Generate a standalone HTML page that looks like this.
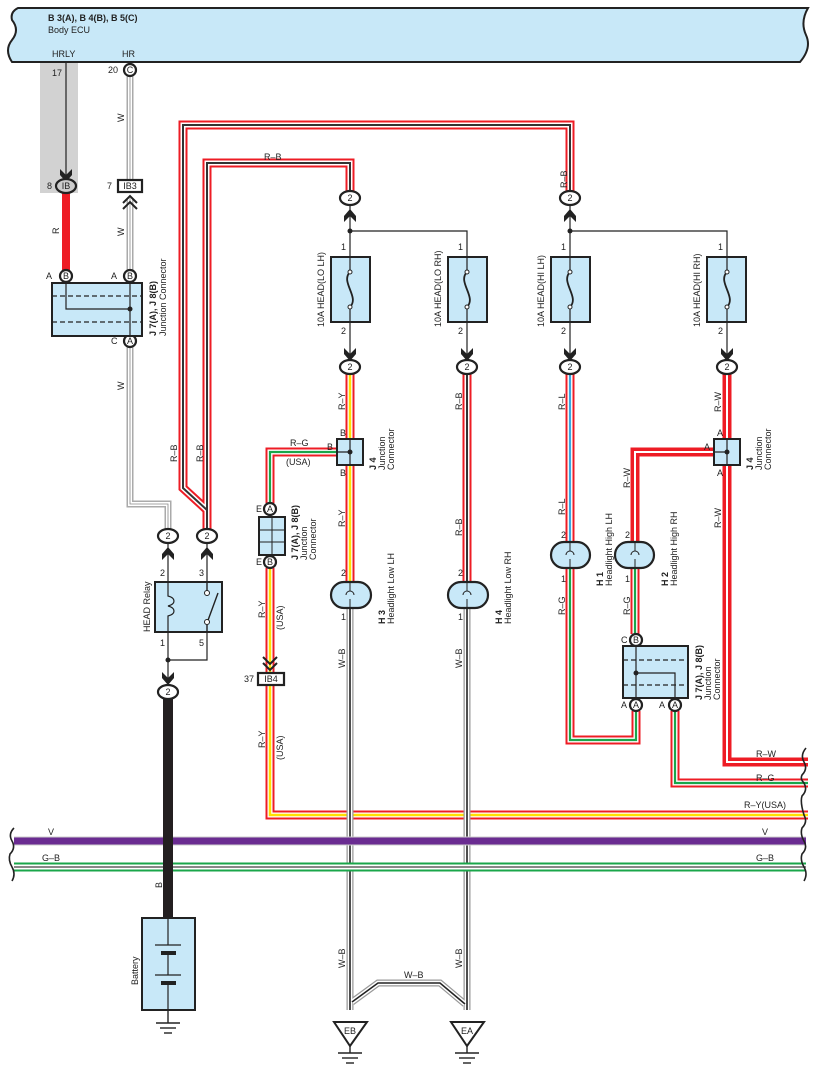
<!DOCTYPE html>
<html><head><meta charset="utf-8"><style>
html,body{margin:0;padding:0;background:#fff}
svg{display:block}
text{font-family:"Liberation Sans",sans-serif;font-size:9px;fill:#222}
.b{font-weight:bold}
</style></head><body>
<svg width="818" height="1076" viewBox="0 0 818 1076" xmlns="http://www.w3.org/2000/svg">
<defs>
<path id="rbA" d="M207,536 L207,510 L183,488 L183,125 L570,125 L570,192" fill="none"/>
<path id="rbB" d="M207,536 L207,163 L350,163 L350,192" fill="none"/>
<path id="wA" d="M130,76 L130,180"/>
<path id="wB" d="M130,198 L130,270"/>
<path id="wC" d="M130,347 L130,504 L168,504 L168,530" fill="none"/>
<path id="ry1" d="M350,373 L350,582"/>
<path id="ry2" d="M270,568 L270,815 L808,815" fill="none"/>
<path id="rg1" d="M350,452 L270,452 L270,503" fill="none"/>
<path id="rb3" d="M467,373 L467,582"/>
<path id="wb1" d="M350,608 L350,1010"/>
<path id="wb2" d="M467,608 L467,1010"/>
<path id="wb3" d="M352,1002 L378,983 L440,983 L465,1004" fill="none"/>
<path id="rl" d="M570,373 L570,542"/>
<path id="rg2" d="M570,568 L570,740 L636,740 L636,711" fill="none"/>
<path id="rg3" d="M635,568 L635,634"/>
<path id="rg4" d="M675,711 L675,783 L808,783" fill="none"/>
<path id="rw1" d="M727,373 L727,762 L808,762" fill="none"/>
<path id="rw2" d="M727,452 L635,452 L635,542" fill="none"/>
<path id="arr" d="M-6,-8 L0,-2 L6,-8 L6,-2 L0,5 L-6,-2 Z"/>
</defs>

<path d="M18,8 L808,8 Q800,22 806,35 Q812,48 800,62 L12,62 Q4,50 12,40 Q20,30 12,20 Q10,12 18,8 Z" fill="#c8e8f8" stroke="#222" stroke-width="2"/>
<text x="48" y="21" class="b">B 3(A), B 4(B), B 5(C)</text>
<text x="48" y="33">Body ECU</text>
<text x="52" y="57">HRLY</text><text x="122" y="57">HR</text>

<rect x="40" y="63" width="38" height="130" fill="#d2d2d2"/>
<line x1="66" y1="63" x2="66" y2="178" stroke="#222" stroke-width="1.2"/>
<use href="#arr" x="66" y="177" fill="#222"/>
<text x="52" y="76">17</text>

<line x1="66" y1="192" x2="66" y2="270" stroke="#ee1c25" stroke-width="8"/>
<text transform="translate(59,234) rotate(-90)">R</text>

<g stroke="#aaa" stroke-width="7" fill="none"><use href="#wA"/><use href="#wB"/><use href="#wC"/></g>
<g stroke="#fff" stroke-width="4" fill="none"><use href="#wA"/><use href="#wB"/><use href="#wC"/></g>
<g stroke="#888" stroke-width="0.8" fill="none"><use href="#wA"/><use href="#wB"/><use href="#wC"/></g>
<text transform="translate(124,122) rotate(-90)">W</text>
<text transform="translate(124,236) rotate(-90)">W</text>
<text transform="translate(124,390) rotate(-90)">W</text>

<g stroke="#ee1c25" stroke-width="9" fill="none"><use href="#rbA"/><use href="#rbB"/><use href="#rb3"/></g>
<g stroke="#fff" stroke-width="5" fill="none"><use href="#rbA"/><use href="#rbB"/><use href="#rb3"/></g>
<g stroke="#333" stroke-width="2" fill="none"><use href="#rbA"/><use href="#rbB"/><use href="#rb3"/></g>
<text x="264" y="160">R–B</text>
<text transform="translate(567,188) rotate(-90)">R–B</text>
<text transform="translate(177,462) rotate(-90)">R–B</text>
<text transform="translate(203,462) rotate(-90)">R–B</text>
<text transform="translate(462,410) rotate(-90)">R–B</text>
<text transform="translate(462,536) rotate(-90)">R–B</text>

<g stroke="#ee1c25" stroke-width="9" fill="none"><use href="#ry1"/><use href="#ry2"/></g>
<g stroke="#fff" stroke-width="5" fill="none"><use href="#ry1"/><use href="#ry2"/></g>
<g stroke="#ffe000" stroke-width="2.5" fill="none"><use href="#ry1"/><use href="#ry2"/></g>
<text transform="translate(345,410) rotate(-90)">R–Y</text>
<text transform="translate(345,527) rotate(-90)">R–Y</text>
<text transform="translate(265,618) rotate(-90)">R–Y</text>
<text transform="translate(283,630) rotate(-90)">(USA)</text>
<text transform="translate(265,748) rotate(-90)">R–Y</text>
<text transform="translate(283,760) rotate(-90)">(USA)</text>
<text x="744" y="808">R–Y(USA)</text>

<g stroke="#ee1c25" stroke-width="9" fill="none"><use href="#rg1"/><use href="#rg2"/><use href="#rg3"/><use href="#rg4"/></g>
<g stroke="#fff" stroke-width="5" fill="none"><use href="#rg1"/><use href="#rg2"/><use href="#rg3"/><use href="#rg4"/></g>
<g stroke="#1aa64a" stroke-width="2.2" fill="none"><use href="#rg1"/><use href="#rg2"/><use href="#rg3"/><use href="#rg4"/></g>
<text x="290" y="446">R–G</text><text x="286" y="465">(USA)</text>
<text transform="translate(565,615) rotate(-90)">R–G</text>
<text transform="translate(630,615) rotate(-90)">R–G</text>
<text x="756" y="781">R–G</text>

<g fill="none"><use href="#rl" stroke="#ee1c25" stroke-width="9"/><use href="#rl" stroke="#fff" stroke-width="5"/><use href="#rl" stroke="#3aa8e0" stroke-width="2.2"/></g>
<text transform="translate(565,410) rotate(-90)">R–L</text>
<text transform="translate(565,515) rotate(-90)">R–L</text>

<g stroke="#ee1c25" stroke-width="9" fill="none"><use href="#rw1"/><use href="#rw2"/></g>
<g stroke="#fff" stroke-width="2" fill="none"><use href="#rw1"/><use href="#rw2"/></g>
<text transform="translate(721,412) rotate(-90)">R–W</text>
<text transform="translate(721,528) rotate(-90)">R–W</text>
<text transform="translate(630,488) rotate(-90)">R–W</text>
<text x="756" y="757">R–W</text>

<g stroke="#999" stroke-width="7" fill="none"><use href="#wb1"/><use href="#wb2"/><use href="#wb3"/></g>
<g stroke="#fff" stroke-width="4.5" fill="none"><use href="#wb1"/><use href="#wb2"/><use href="#wb3"/></g>
<g stroke="#222" stroke-width="1.6" fill="none"><use href="#wb1"/><use href="#wb2"/><use href="#wb3"/></g>
<text transform="translate(345,668) rotate(-90)">W–B</text>
<text transform="translate(462,668) rotate(-90)">W–B</text>
<text transform="translate(345,968) rotate(-90)">W–B</text>
<text transform="translate(462,968) rotate(-90)">W–B</text>
<text x="404" y="978">W–B</text>

<line x1="14" y1="841" x2="806" y2="841" stroke="#ccc" stroke-width="9"/>
<line x1="14" y1="841" x2="806" y2="841" stroke="#6a2c91" stroke-width="7"/>
<line x1="14" y1="867" x2="806" y2="867" stroke="#1aa64a" stroke-width="9"/>
<line x1="14" y1="867" x2="806" y2="867" stroke="#fff" stroke-width="5"/>
<line x1="14" y1="867" x2="806" y2="867" stroke="#888" stroke-width="2"/>
<text x="48" y="835">V</text><text x="762" y="835">V</text>
<text x="42" y="861">G–B</text><text x="756" y="861">G–B</text>
<g fill="none" stroke="#222" stroke-width="1.6">
<path d="M14,828 Q8,834 12,841 Q16,848 10,854 Q8,860 12,867 Q16,874 12,881"/>
<path d="M806,748 Q800,755 804,762 Q808,769 802,775 Q800,779 804,783 Q808,790 802,796 Q800,802 804,815 Q808,822 802,828 Q800,834 804,841 Q808,848 802,854 Q800,860 804,867 Q808,874 804,881"/>
</g>

<line x1="168" y1="698" x2="168" y2="918" stroke="#231f20" stroke-width="10"/>
<text transform="translate(162,888) rotate(-90)">B</text>

<g stroke="#222" stroke-width="2.2" fill="#fff">
<ellipse cx="66" cy="186" rx="10" ry="7" fill="#ccc"/>
<rect x="118" y="180" width="24" height="12"/>
<circle cx="130" cy="70" r="6"/>
<circle cx="66" cy="276" r="6"/><circle cx="130" cy="276" r="6"/><circle cx="130" cy="341" r="6"/>
<ellipse cx="350" cy="198" rx="10" ry="7"/><ellipse cx="570" cy="198" rx="10" ry="7"/>
<ellipse cx="350" cy="367" rx="10" ry="7"/><ellipse cx="467" cy="367" rx="10" ry="7"/>
<ellipse cx="570" cy="367" rx="10" ry="7"/><ellipse cx="727" cy="367" rx="10" ry="7"/>
<ellipse cx="168" cy="536" rx="10" ry="7"/><ellipse cx="207" cy="536" rx="10" ry="7"/>
<ellipse cx="168" cy="692" rx="10" ry="7"/>
<circle cx="270" cy="509" r="6"/><circle cx="270" cy="562" r="6"/>
<rect x="258" y="673" width="26" height="12"/>
<circle cx="636" cy="640" r="6"/><circle cx="636" cy="705" r="6"/><circle cx="675" cy="705" r="6"/>
</g>
<g text-anchor="middle">
<text x="66" y="189">IB</text><text x="130" y="189">IB3</text><text x="130" y="73">C</text>
<text x="66" y="279">B</text><text x="130" y="279">B</text><text x="130" y="344">A</text>
<text x="350" y="201">2</text><text x="570" y="201">2</text>
<text x="350" y="370">2</text><text x="467" y="370">2</text><text x="570" y="370">2</text><text x="727" y="370">2</text>
<text x="168" y="539">2</text><text x="207" y="539">2</text><text x="168" y="695">2</text>
<text x="270" y="512">A</text><text x="270" y="565">B</text><text x="271" y="682">IB4</text>
<text x="636" y="643">B</text><text x="636" y="708">A</text><text x="675" y="708">A</text>
</g>
<text x="47" y="189">8</text><text x="107" y="189">7</text><text x="108" y="73">20</text>
<text x="46" y="279">A</text><text x="111" y="279">A</text><text x="111" y="344">C</text>
<text x="256" y="512">E</text><text x="256" y="565">E</text><text x="244" y="682">37</text>
<text x="621" y="643">C</text><text x="621" y="708">A</text><text x="659" y="708">A</text>

<path d="M123,203 L130,196 L137,203 M123,209 L130,202 L137,209" stroke="#222" stroke-width="2" fill="none"/>
<path d="M263,657 L270,664 L277,657 M263,663 L270,670 L277,663" stroke="#222" stroke-width="2" fill="none"/>

<rect x="52" y="283" width="90" height="53" fill="#c8e8f8" stroke="#222" stroke-width="2"/>
<g stroke="#222" stroke-width="1.2" stroke-dasharray="5,3"><line x1="52" y1="296" x2="142" y2="296"/><line x1="52" y1="322" x2="142" y2="322"/></g>
<path d="M66,282 L66,309 L130,309 M130,282 L130,336" stroke="#222" stroke-width="1.2" fill="none"/>
<circle cx="130" cy="309" r="2.5" fill="#222"/>
<text transform="translate(156,336) rotate(-90)" class="b">J 7(A), J 8(B)</text>
<text transform="translate(166,336) rotate(-90)">Junction Connector</text>

<g stroke="#222" stroke-width="1.2" fill="none">
<path d="M350,205 L350,360 M350,231 L467,231 L467,360"/>
<path d="M570,205 L570,360 M570,231 L727,231 L727,360"/>
<path d="M168,543 L168,686 M207,543 L207,660 L168,660"/>
</g>
<g fill="#222"><circle cx="350" cy="231" r="2.5"/><circle cx="570" cy="231" r="2.5"/><circle cx="168" cy="660" r="2.5"/></g>
<g fill="#222">
<use href="#arr" x="350" y="214" transform="rotate(180 350 214)"/><use href="#arr" x="570" y="214" transform="rotate(180 570 214)"/>
<use href="#arr" x="350" y="356"/><use href="#arr" x="467" y="356"/><use href="#arr" x="570" y="356"/><use href="#arr" x="727" y="356"/>
<use href="#arr" x="168" y="552" transform="rotate(180 168 552)"/><use href="#arr" x="207" y="552" transform="rotate(180 207 552)"/>
<use href="#arr" x="168" y="680"/>
</g>
<g fill="#c8e8f8" stroke="#222" stroke-width="2">
<rect x="331" y="257" width="39" height="65"/><rect x="448" y="257" width="39" height="65"/>
<rect x="551" y="257" width="39" height="65"/><rect x="707" y="257" width="39" height="65"/>
</g>
<g stroke="#222" stroke-width="1.2" fill="none">
<path d="M350,257 L350,272 M350,307 L350,322 M467,257 L467,272 M467,307 L467,322 M570,257 L570,272 M570,307 L570,322 M727,257 L727,272 M727,307 L727,322"/>
<path d="M350,272 C340,282 360,297 350,307 M467,272 C457,282 477,297 467,307 M570,272 C560,282 580,297 570,307 M727,272 C717,282 737,297 727,307" stroke-width="1.8"/>
</g>
<g fill="#fff" stroke="#222" stroke-width="1">
<circle cx="350" cy="272" r="2"/><circle cx="350" cy="307" r="2"/><circle cx="467" cy="272" r="2"/><circle cx="467" cy="307" r="2"/>
<circle cx="570" cy="272" r="2"/><circle cx="570" cy="307" r="2"/><circle cx="727" cy="272" r="2"/><circle cx="727" cy="307" r="2"/>
</g>
<text x="341" y="250">1</text><text x="341" y="334">2</text><text x="458" y="250">1</text><text x="458" y="334">2</text>
<text x="561" y="250">1</text><text x="561" y="334">2</text><text x="718" y="250">1</text><text x="718" y="334">2</text>
<text transform="translate(324,327) rotate(-90)">10A HEAD(LO LH)</text>
<text transform="translate(441,327) rotate(-90)">10A HEAD(LO RH)</text>
<text transform="translate(544,327) rotate(-90)">10A HEAD(HI LH)</text>
<text transform="translate(700,327) rotate(-90)">10A HEAD(HI RH)</text>

<rect x="337" y="439" width="26" height="26" fill="#c8e8f8" stroke="#222" stroke-width="2"/>
<path d="M350,439 L350,465 M337,452 L350,452" stroke="#222" stroke-width="1.2"/><circle cx="350" cy="452" r="2.5" fill="#222"/>
<text x="340" y="436">B</text><text x="340" y="476">B</text><text x="327" y="450">B</text>
<text transform="translate(376,470) rotate(-90)" class="b">J 4</text>
<text transform="translate(385,470) rotate(-90)">Junction</text><text transform="translate(394,470) rotate(-90)">Connector</text>
<rect x="714" y="439" width="26" height="26" fill="#c8e8f8" stroke="#222" stroke-width="2"/>
<path d="M727,439 L727,465 M714,452 L727,452" stroke="#222" stroke-width="1.2"/><circle cx="727" cy="452" r="2.5" fill="#222"/>
<text x="717" y="436">A</text><text x="717" y="476">A</text><text x="704" y="450">A</text>
<text transform="translate(753,470) rotate(-90)" class="b">J 4</text>
<text transform="translate(762,470) rotate(-90)">Junction</text><text transform="translate(771,470) rotate(-90)">Connector</text>

<rect x="259" y="517" width="26" height="38" fill="#c8e8f8" stroke="#222" stroke-width="2"/>
<path d="M272,517 L272,555 M259,530 L285,530 M259,542 L285,542" stroke="#222" stroke-width="1"/>
<text transform="translate(298,560) rotate(-90)" class="b">J 7(A), J 8(B)</text>
<text transform="translate(307,560) rotate(-90)">Junction</text><text transform="translate(316,560) rotate(-90)">Connector</text>

<rect x="623" y="646" width="65" height="52" fill="#c8e8f8" stroke="#222" stroke-width="2"/>
<g stroke="#222" stroke-width="1.2" stroke-dasharray="5,3"><line x1="623" y1="660" x2="688" y2="660"/><line x1="623" y1="685" x2="688" y2="685"/></g>
<path d="M636,646 L636,698 M636,673 L675,673 L675,698" stroke="#222" stroke-width="1.2" fill="none"/>
<circle cx="636" cy="673" r="2.5" fill="#222"/>
<text transform="translate(702,700) rotate(-90)" class="b">J 7(A), J 8(B)</text>
<text transform="translate(711,700) rotate(-90)">Junction</text><text transform="translate(720,700) rotate(-90)">Connector</text>

<rect x="155" y="582" width="67" height="50" fill="#c8e8f8" stroke="#222" stroke-width="2"/>
<path d="M168,582 L168,596 C176,598 176,604 168,606 C176,608 176,614 168,616 L168,632" stroke="#222" stroke-width="1.2" fill="none"/>
<path d="M207,582 L207,591 M207,625 L207,632 M207,623 L218,593" stroke="#222" stroke-width="1.4" fill="none"/>
<circle cx="207" cy="593" r="2.5" fill="#fff" stroke="#222"/><circle cx="207" cy="622" r="2.5" fill="#fff" stroke="#222"/>
<text x="160" y="576">2</text><text x="199" y="576">3</text><text x="160" y="646">1</text><text x="199" y="646">5</text>
<text transform="translate(150,632) rotate(-90)">HEAD Relay</text>

<g fill="#c8e8f8" stroke="#222" stroke-width="2.2">
<rect x="331" y="582" width="40" height="26" rx="13"/><rect x="448" y="582" width="40" height="26" rx="13"/>
<rect x="551" y="542" width="39" height="26" rx="13"/><rect x="615" y="542" width="39" height="26" rx="13"/>
</g>
<g stroke="#222" stroke-width="1" fill="none">
<path d="M350,582 L350,591 M350,599 L350,608 M346,595 a3,3 0 1 1 8,0"/>
<path d="M467,582 L467,591 M467,599 L467,608 M463,595 a3,3 0 1 1 8,0"/>
<path d="M570,542 L570,551 M570,559 L570,568 M566,555 a3,3 0 1 1 8,0"/>
<path d="M635,542 L635,551 M635,559 L635,568 M631,555 a3,3 0 1 1 8,0"/>
</g>
<text x="341" y="576">2</text><text x="341" y="620">1</text><text x="458" y="576">2</text><text x="458" y="620">1</text>
<text x="561" y="538">2</text><text x="561" y="582">1</text><text x="625" y="538">2</text><text x="625" y="582">1</text>
<text transform="translate(385,624) rotate(-90)" class="b">H 3</text><text transform="translate(394,624) rotate(-90)">Headlight Low LH</text>
<text transform="translate(502,624) rotate(-90)" class="b">H 4</text><text transform="translate(511,624) rotate(-90)">Headlight Low RH</text>
<text transform="translate(603,586) rotate(-90)" class="b">H 1</text><text transform="translate(612,586) rotate(-90)">Headlight High LH</text>
<text transform="translate(668,586) rotate(-90)" class="b">H 2</text><text transform="translate(677,586) rotate(-90)">Headlight High RH</text>

<rect x="142" y="918" width="53" height="92" fill="#c8e8f8" stroke="#222" stroke-width="2"/>
<path d="M168,918 L168,945 M155,945 L181,945 M168,953 L168,975 M155,975 L181,975 M168,983 L168,1010" stroke="#222" stroke-width="1.2" fill="none"/>
<rect x="161" y="951" width="15" height="4" fill="#222"/><rect x="161" y="981" width="15" height="4" fill="#222"/>
<text transform="translate(138,985) rotate(-90)">Battery</text>
<g stroke="#222" stroke-width="1.4">
<line x1="168" y1="1010" x2="168" y2="1023"/><line x1="156" y1="1023" x2="180" y2="1023"/><line x1="160" y1="1028" x2="176" y2="1028"/><line x1="164" y1="1033" x2="172" y2="1033"/>
<line x1="350" y1="1046" x2="350" y2="1053"/><line x1="338" y1="1053" x2="362" y2="1053"/><line x1="342" y1="1058" x2="358" y2="1058"/><line x1="346" y1="1063" x2="354" y2="1063"/>
<line x1="467" y1="1046" x2="467" y2="1053"/><line x1="455" y1="1053" x2="479" y2="1053"/><line x1="459" y1="1058" x2="475" y2="1058"/><line x1="463" y1="1063" x2="471" y2="1063"/>
</g>
<g fill="#fff" stroke="#222" stroke-width="2"><path d="M334,1022 L367,1022 L350,1046 Z"/><path d="M451,1022 L484,1022 L467,1046 Z"/></g>
<text x="344" y="1034">EB</text><text x="461" y="1034">EA</text>
</svg>
</body></html>
